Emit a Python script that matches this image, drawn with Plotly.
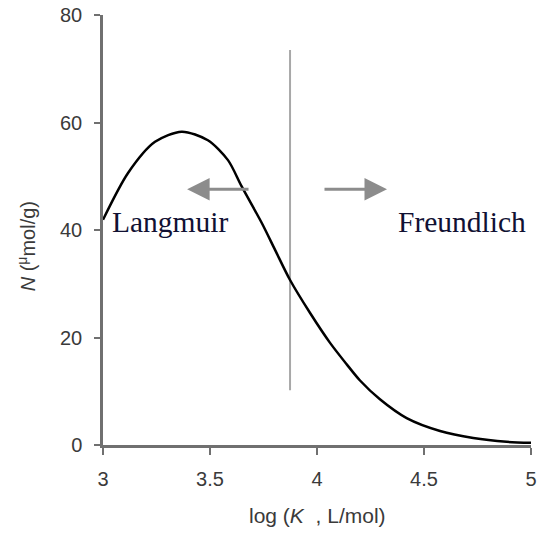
import plotly.graph_objects as go

# Curve data
log_k = [3.0, 3.117, 3.243, 3.368, 3.49, 3.584, 3.648, 3.742, 3.804, 3.874,
         3.967, 4.061, 4.139, 4.201, 4.294, 4.419, 4.575, 4.73, 4.886, 5.0]
n_values = [41.9, 50.6, 56.4, 58.3, 56.7, 53.0, 48.1, 41.3, 36.3, 30.7,
            24.6, 19.0, 15.0, 12.0, 8.5, 5.0, 2.6, 1.3, 0.6, 0.4]

# Divider line between regimes
divider_x = [3.874, 3.874]
divider_y = [10.2, 73.5]

x_ticks = [3, 3.5, 4, 4.5, 5]
x_tick_labels = ["3", "3.5", "4", "4.5", "5"]
y_ticks = [0, 20, 40, 60, 80]
y_tick_labels = ["0", "20", "40", "60", "80"]

region_labels = ["Langmuir", "Freundlich"]

fig = go.Figure()

fig.add_trace(go.Scatter(
    x=divider_x, y=divider_y, mode="lines",
    line=dict(color="#a8a8a8", width=2), hoverinfo="skip", showlegend=False,
))

fig.add_trace(go.Scatter(
    x=log_k, y=n_values, mode="lines",
    line=dict(color="black", width=2.5, shape="spline", smoothing=0.8),
    showlegend=False, cliponaxis=False,
))

# Arrows
arrow_style = dict(showarrow=True, arrowhead=2, arrowsize=1.5, arrowwidth=3,
                   arrowcolor="#8c8c8c", axref="x", ayref="y", xref="x", yref="y", text="")
fig.add_annotation(x=3.393, y=47.6, ax=3.687, ay=47.6, **arrow_style)
fig.add_annotation(x=4.327, y=47.6, ax=4.028, ay=47.6, **arrow_style)

serif = "Liberation Serif, Times New Roman, serif"
fig.add_annotation(x=3.035, y=41.5, text=region_labels[0], showarrow=False,
                   xanchor="left", yanchor="middle",
                   font=dict(family=serif, size=29.5, color="#111133"))
fig.add_annotation(x=4.985, y=41.5, text=region_labels[1], showarrow=False,
                   xanchor="right", yanchor="middle",
                   font=dict(family=serif, size=29.5, color="#111133"))

sans = "Liberation Sans, Arial, sans-serif"
tick_font = dict(family=sans, size=20, color="#3a3a3a")
title_font = dict(family=sans, size=20, color="#3a3a3a")

# Axis titles
fig.add_annotation(xref="paper", yref="paper", x=-0.18, y=0.462,
                   text="<i>N</i> (<sup>μ</sup>mol/g)", textangle=-90, showarrow=False,
                   xanchor="center", yanchor="middle", font=title_font)
fig.add_annotation(xref="paper", yref="paper", x=0.5, y=-0.163,
                   text="log (<i>K</i>  , L/mol)", showarrow=False,
                   xanchor="center", yanchor="middle",
                   font=dict(family=sans, size=21, color="#3a3a3a"))

fig.update_layout(
    width=538, height=538,
    margin=dict(l=103, r=7, t=15, b=93),
    paper_bgcolor="white", plot_bgcolor="white",
    font=tick_font,
)

fig.update_xaxes(
    range=[3, 5], tickvals=x_ticks, ticktext=x_tick_labels,
    showgrid=False, zeroline=False, automargin=False,
    showline=True, linecolor="#707070", linewidth=2.5,
    ticks="outside", ticklen=7, tickwidth=2, tickcolor="#707070",
    tickfont=tick_font, ticklabeloverflow="allow", ticklabelstandoff=7,
)
fig.update_yaxes(
    range=[0, 80], tickvals=y_ticks, ticktext=y_tick_labels,
    showgrid=False, zeroline=False, automargin=False,
    showline=True, linecolor="#707070", linewidth=2.5,
    ticks="outside", ticklen=6, tickwidth=2, tickcolor="#707070",
    tickfont=tick_font, ticklabeloverflow="allow", ticklabelstandoff=8,
)

# Remove the page's default body margin so the figure fills the window exactly
fig.write_html(
    "out.html",
    config={"displayModeBar": False},
    post_script="document.body.style.margin='0';"
                "document.documentElement.style.overflow='hidden';"
                "document.body.style.overflow='hidden';",
)
